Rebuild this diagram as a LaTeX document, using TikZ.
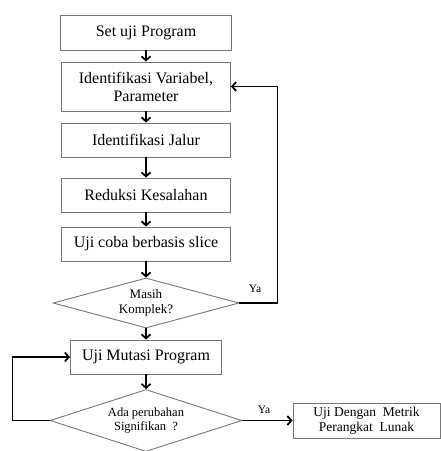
\documentclass[tikz,border=0pt]{standalone}
\usepackage{fontspec}
\setmainfont{Liberation Serif}
\usetikzlibrary{shapes.geometric,arrows.meta}
\definecolor{boxgray}{RGB}{120,120,120}
\tikzset{
  box/.style={draw=boxgray, line width=0.9pt, rectangle, inner sep=2pt, align=center,
     font=\fontsize{16}{18}\selectfont},
  dec/.style={draw=boxgray, line width=0.9pt, diamond, inner sep=0pt, align=center,
     font=\fontsize{13}{15}\selectfont},
  conn/.style={draw=black, line width=1.8pt, -{Straight Barb[length=4pt,width=9pt,line width=1.8pt]}},
  lbl/.style={font=\fontsize{11.5}{13}\selectfont, inner sep=0pt}
}
\begin{document}
\begin{tikzpicture}[x=1pt,y=-1pt]
\useasboundingbox (0,0) rectangle (441,451);
\node[box, minimum width=171pt, minimum height=35pt] (b1) at (146,32.5) {Set uji Program};
\node[box, minimum width=169pt, minimum height=49pt] (b2) at (146,86.5) {Identifikasi Variabel,\\Parameter};
\node[box, minimum width=169pt, minimum height=34pt] (b3) at (146,140) {Identifikasi Jalur};
\node[box, minimum width=169pt, minimum height=34pt] (b4) at (146,195) {Reduksi Kesalahan};
\node[box, minimum width=169pt, minimum height=34pt] (b5) at (146,244) {Uji coba berbasis slice};
\node[dec, minimum width=186pt, minimum height=50pt, aspect=3.72] (d1) at (146,303) {Masih\\Komplek?};
\node[box, minimum width=151pt, minimum height=34pt] (b6) at (146,357) {Uji Mutasi Program};
\node[dec, minimum width=192pt, minimum height=62pt, aspect=3.1, font=\fontsize{12.5}{14}\selectfont] (d2) at (146,420.5) {Ada perubahan\\Signifikan\ \ ?};
\node[box, minimum width=147pt, minimum height=35pt, inner sep=1pt, font=\fontsize{13.5}{15}\selectfont] (b7) at (366.5,420.5) {Uji Dengan\ \ Metrik\\Perangkat\ \ Lunak};

\draw[conn] (b1.south) -- (b2.north);
\draw[conn] (b2.south) -- (b3.north);
\draw[conn] (b3.south) -- (b4.north);
\draw[conn] (b4.south) -- (b5.north);
\draw[conn] (b5.south) -- (d1.north);
\draw[conn] (d1.south) -- (b6.north);
\draw[conn] (b6.south) -- (d2.north);
\draw[conn] (d1.east) -- ++(38,0) |- (b2.east);
\draw[conn] (d2.west) -- ++(-37,0) |- (b6.west);
\draw[conn] (d2.east) -- (b7.west);
\node[lbl] (ya1) at (255,289) {Ya};
\node[lbl] (ya2) at (264,410) {Ya};
\end{tikzpicture}
\end{document}
